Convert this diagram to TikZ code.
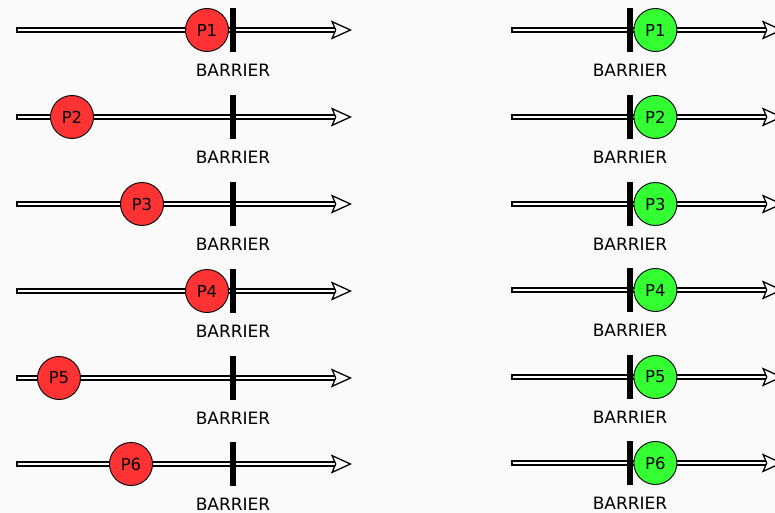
\documentclass[tikz,border=0pt]{standalone}
\usepackage{fontspec}
\setmainfont{DejaVu Sans}
\usetikzlibrary{arrows.meta,positioning}

\definecolor{procred}{HTML}{FF3333}
\definecolor{procgreen}{HTML}{33FF33}
\definecolor{paper}{HTML}{FAFAFA}

\tikzset{
  track/.style={draw, line width=1.3pt, double=white, double distance=2.6pt, line cap=rect,
    -{Stealth[fill=white, length=21pt, width=19pt, inset=4pt, line width=1.3pt]}},
  proc/.style={circle, draw, line width=0.9pt, minimum size=43pt, inner sep=0pt,
    font=\fontsize{16.5}{16.5}\selectfont},
  bar/.style={fill=black, minimum width=6.5pt, minimum height=44pt, inner sep=0pt},
  barlabel/.style={font=\fontsize{17}{18}\selectfont, inner sep=0pt}
}

\begin{document}
\begin{tikzpicture}[x=1pt, y=-1pt]
  \fill[paper] (0,0) rectangle (775,513);
  \useasboundingbox (0,0) rectangle (775,513);

  % waiting side: processes still on their way
  \foreach \i/\px/\y in {1/207/30,2/72/117,3/142/204,4/207/291,5/59/378,6/131/464} {
    \coordinate (ls\i) at (19,\y);
    \coordinate (le\i) at (352,\y);
    \draw[track] (ls\i) -- (le\i);
    \node[proc, fill=procred] (lp\i) at (\px,\y) {P\i};
    \node[bar] (lb\i) at (233,\y) {};
    \node[barlabel, below=11.5pt of lb\i] (lt\i) {BARRIER};
  }

  % released side: every process has passed
  \foreach \i/\y in {1/30,2/117,3/204,4/290,5/377,6/463} {
    \coordinate (rs\i) at (514,\y);
    \coordinate (re\i) at (783,\y);
    \draw[track] (rs\i) -- (re\i);
    \node[bar] (rb\i) at (630,\y) {};
    \node[proc, fill=procgreen, right=0pt of rb\i] (rp\i) {P\i};
    \node[barlabel, below=11.5pt of rb\i] (rt\i) {BARRIER};
  }
\end{tikzpicture}
\end{document}
